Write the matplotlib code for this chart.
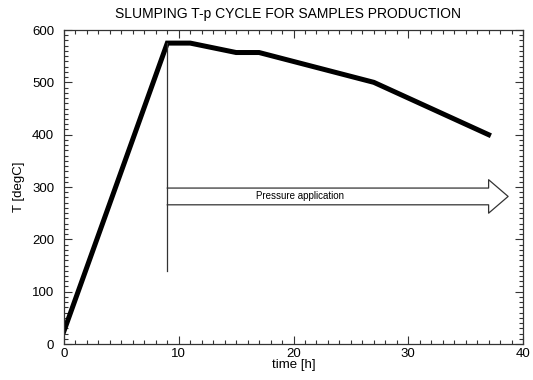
import matplotlib
matplotlib.use("Agg")
import matplotlib.pyplot as plt
from matplotlib.ticker import MultipleLocator

plt.rcParams['font.family'] = ['Liberation Sans', 'DejaVu Sans']

# slumping cycle: time [h] vs temperature [degC]
time_h = [0, 9, 11, 15, 17, 27, 37]
temp_c = [25, 575, 575, 557, 557, 500, 400]

# pressure applied from t=9 h onwards
p_start = 9
p_line_bottom = 140
arrow_body = (266, 298)   # T range of arrow shaft
arrow_head = (250, 314)   # T range of arrow head base
arrow_head_x = 37.0
arrow_tip_x = 38.7

fig = plt.figure(figsize=(5.33, 3.8), dpi=100)
ax = fig.add_axes([0.1201, 0.0947, 0.8612, 0.8263])

ax.plot(time_h, temp_c, color='black', lw=3.6, solid_joinstyle='miter')

# vertical marker
ax.plot([p_start, p_start], [p_line_bottom, temp_c[1]], color='#333333', lw=0.9)

# open-tail arrow outline
lo, hi = arrow_body
hlo, hhi = arrow_head
tip_y = (hlo + hhi) / 2
ax.plot([p_start, arrow_head_x, arrow_head_x, arrow_tip_x, arrow_head_x, arrow_head_x, p_start],
        [hi, hi, hhi, tip_y, hlo, lo, lo], color='#333333', lw=0.9)
ax.text(20.6, (lo + hi) / 2, 'Pressure application', fontsize=7, ha='center', va='center')

ax.set_xlim(0, 40)
ax.set_ylim(0, 600)
ax.xaxis.set_major_locator(MultipleLocator(10))
ax.xaxis.set_minor_locator(MultipleLocator(1))
ax.yaxis.set_major_locator(MultipleLocator(100))
ax.yaxis.set_minor_locator(MultipleLocator(10))
ax.tick_params(which='both', direction='in', top=True, right=True, color='#333333',
               width=0.8, labelsize=9.5)
ax.tick_params(which='major', length=6)
ax.tick_params(which='minor', length=3)
ax.tick_params(axis='x', pad=3)
ax.tick_params(axis='y', pad=7)
for s in ax.spines.values():
    s.set_color('#333333')
    s.set_linewidth(0.9)

ax.set_xlabel('time [h]', fontsize=9.5, labelpad=-1)
ax.set_ylabel('T [degC]', fontsize=9.5, labelpad=5)
fig.text(0.541, 0.963, 'SLUMPING T-p CYCLE FOR SAMPLES PRODUCTION', fontsize=10,
         ha='center', va='center')

fig.savefig('out.png', dpi=100)
